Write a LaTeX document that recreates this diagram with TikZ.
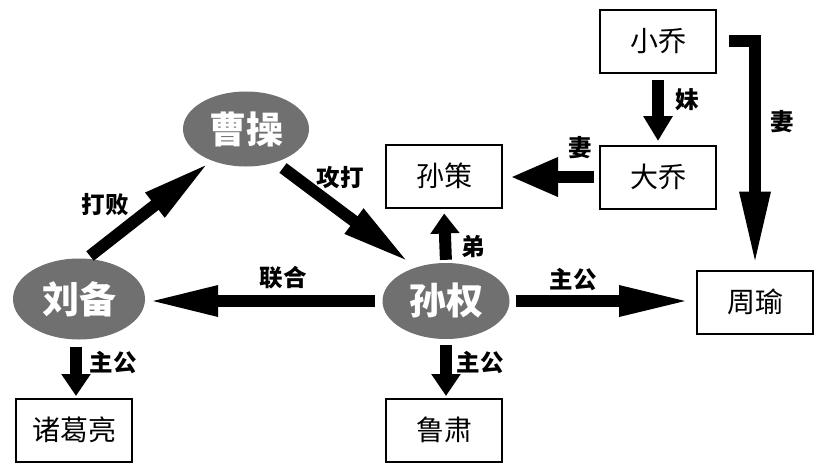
\documentclass[tikz,border=0pt]{standalone}
\usepackage{fontspec}
\newfontfamily\cjk{Noto Sans CJK SC}
\usetikzlibrary{arrows.meta,shapes.geometric,calc}
\definecolor{ellgray}{HTML}{707070}
\tikzset{
  box/.style={draw=black, line width=2pt, fill=white, minimum width=116pt, minimum height=63pt, inner sep=0pt, font=\cjk\fontsize{28}{30}\selectfont},
  ell/.style={ellipse, fill=ellgray, inner sep=0pt, text=white, font=\cjk\bfseries\fontsize{37}{39}\selectfont},
  lbl/.style={inner sep=0pt, font=\cjk\bfseries\fontsize{23.5}{25}\selectfont},
  bigarrow/.style={line width=12pt, line join=miter, -{Triangle[width=28pt,length=#1]}},
}
\begin{document}
\begin{tikzpicture}[x=1pt,y=-1pt]
\useasboundingbox[fill=white] (0,0) rectangle (827,472);
% boxes
\node[box] (xq) at (658,41) {小乔};
\node[box] (dq) at (658,177) {大乔};
\node[box] (sc) at (444,176) {孙策};
\node[box] (zy) at (755,302) {周瑜};
\node[box] (ls) at (444,430) {鲁肃};
\node[box] (zg) at (74,430) {诸葛亮};
% ellipses
\node[ell, minimum width=126pt, minimum height=75pt] (cc) at (246,129) {曹操};
\node[ell, minimum width=132pt, minimum height=81pt] (lb) at (79,299) {刘备};
\node[ell, minimum width=127pt, minimum height=76pt] (sq) at (446,301) {孙权};
% arrows
\draw[bigarrow=25pt, shorten <=6.5pt, shorten >=3.5pt] (xq.south) -- (dq.north);
\draw[bigarrow=75pt] ([xshift=12pt]xq.east) -| ([yshift=3pt]zy.north);
\draw[line width=12pt, -{Triangle[width=36pt,length=48pt]}, shorten <=5pt, shorten >=7pt] (dq.west) -- (dq.west -| sc.east);
\draw[bigarrow=20pt, shorten <=3pt, shorten >=5pt] (sq.north) -- (sc.south);
\draw[bigarrow=70pt] ($(cc.center)+(37,39)$) -- ($(sq.center)+(-36,-38)$);
\draw[bigarrow=70pt] ($(lb.center)+(11,-43)$) -- ($(cc.center)+(-36,33)$);
\draw[bigarrow=71pt, shorten <=7pt, shorten >=2pt] (sq.west) -- (sq.west -| lb.east);
\draw[bigarrow=72pt, shorten <=6pt, shorten >=5pt] (sq.east) -- (sq.east -| zy.west);
\draw[bigarrow=22pt, shorten <=6pt, shorten >=1.5pt] (sq.south) -- (sq.south |- ls.north);
\draw[bigarrow=22pt, shorten <=7pt, shorten >=1.5pt] ([xshift=-3pt]lb.south) -- ([xshift=-3pt]lb.south |- zg.north);
% labels
\node[lbl] (lmei) at (687,100) {妹};
\node[lbl] (lqi1) at (782,122) {妻};
\node[lbl] (lqi2) at (580,148) {妻};
\node[lbl] (ldi) at (473,247) {弟};
\node[lbl] (lgd) at (340,178) {攻打};
\node[lbl] (ldb) at (105,205) {打败};
\node[lbl] (llh) at (283,278) {联合};
\node[lbl] (lzg1) at (573,280) {主公};
\node[lbl] (lzg2) at (480,363) {主公};
\node[lbl] (lzg3) at (113,363) {主公};
\end{tikzpicture}
\end{document}
